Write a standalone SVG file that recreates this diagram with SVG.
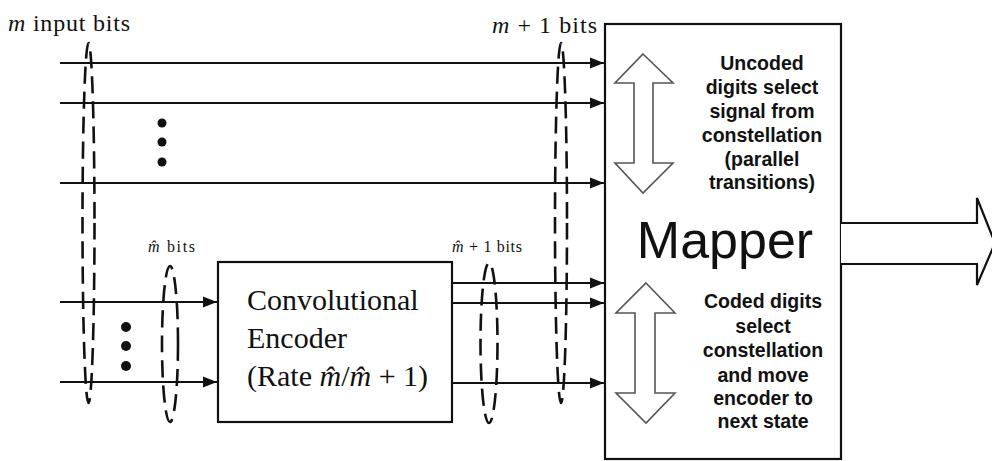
<svg xmlns="http://www.w3.org/2000/svg" width="992" height="461" viewBox="0 0 992 461">
<defs>
<marker id="ah" markerWidth="16" markerHeight="12" refX="14" refY="6" orient="auto" markerUnits="userSpaceOnUse">
<path d="M0,0.5 L14,6 L0,11.5 Z" fill="#111"/>
</marker>
<style>
.ln{stroke:#111;stroke-width:2.2;fill:none}
.box{stroke:#111;stroke-width:2.2;fill:#fff}
.dash{stroke:#111;stroke-width:2.6;fill:none;stroke-dasharray:17 8}
.hol{stroke:#555;stroke-width:1.6;fill:#fff}
.ser{font-family:"Liberation Serif","Times New Roman",serif;fill:#111}
.sans{font-family:"Liberation Sans",Arial,sans-serif;fill:#111}
.bold{font-family:"Liberation Sans",Arial,sans-serif;font-weight:bold;font-size:19.5px;fill:#111;text-anchor:middle}
.dot{fill:#111}
</style>
</defs>
<rect width="992" height="461" fill="#fff"/>

<g id="mapper">
<rect class="box" x="605" y="24" width="236" height="435"/>
<text class="sans" x="725" y="258" font-size="52" text-anchor="middle">Mapper</text>
<path class="hol" d="M643,54 L673,83 L653,83 L653,163 L673,163 L643,193 L615,163 L634,163 L634,83 L615,83 Z"/>
<path class="hol" d="M646,283 L675,313 L655,313 L655,393 L675,393 L646,423 L616,393 L635,393 L635,313 L616,313 Z"/>
<g class="bold">
<text x="762" y="70">Uncoded</text>
<text x="762" y="94">digits select</text>
<text x="762" y="118">signal from</text>
<text x="762" y="142">constellation</text>
<text x="762" y="166">(parallel</text>
<text x="762" y="189">transitions)</text>
<text x="763" y="308">Coded digits</text>
<text x="763" y="333">select</text>
<text x="763" y="357">constellation</text>
<text x="763" y="382">and move</text>
<text x="763" y="405">encoder to</text>
<text x="763" y="428">next state</text>
</g>
</g>

<g id="encoder">
<rect class="box" x="218" y="262" width="234" height="160"/>
<text class="ser" x="247" y="310" font-size="30">Convolutional</text>
<text class="ser" x="247" y="348" font-size="30">Encoder</text>
<text class="ser" x="247" y="386" font-size="30">(Rate <tspan font-style="italic">m̂</tspan>/<tspan font-style="italic">m̂</tspan> + 1)</text>
</g>

<g id="output">
<path class="box" d="M841,223 L977,223 L977,198 L995,243 L977,285 L977,264 L841,264"/>
</g>

<g id="connectors">
<line class="ln" x1="60" y1="63" x2="604" y2="63" marker-end="url(#ah)"/>
<line class="ln" x1="60" y1="103" x2="604" y2="103" marker-end="url(#ah)"/>
<line class="ln" x1="60" y1="183" x2="604" y2="183" marker-end="url(#ah)"/>
<line class="ln" x1="60" y1="302" x2="217" y2="302" marker-end="url(#ah)"/>
<line class="ln" x1="60" y1="382" x2="217" y2="382" marker-end="url(#ah)"/>
<line class="ln" x1="452" y1="283" x2="604" y2="283" marker-end="url(#ah)"/>
<line class="ln" x1="452" y1="303" x2="604" y2="303" marker-end="url(#ah)"/>
<line class="ln" x1="452" y1="383" x2="604" y2="383" marker-end="url(#ah)"/>
</g>

<g id="groupings">
<ellipse class="dash" cx="88.5" cy="223" rx="6" ry="180"/>
<ellipse class="dash" cx="561" cy="223" rx="6" ry="180"/>
<ellipse class="dash" cx="170" cy="344" rx="8" ry="78"/>
<ellipse class="dash" cx="489" cy="343" rx="8.5" ry="80"/>
</g>

<g id="dots">
<circle class="dot" cx="162" cy="123" r="4.5"/>
<circle class="dot" cx="162" cy="142" r="4.5"/>
<circle class="dot" cx="162" cy="162" r="4.5"/>
<circle class="dot" cx="126" cy="327" r="5"/>
<circle class="dot" cx="126" cy="346" r="5"/>
<circle class="dot" cx="126" cy="366" r="5"/>
</g>

<g id="labels">
<text class="ser" x="8" y="31" font-size="24" textLength="122" lengthAdjust="spacing"><tspan font-style="italic">m</tspan> input bits</text>
<text class="ser" x="492" y="33" font-size="24" textLength="105" lengthAdjust="spacing"><tspan font-style="italic">m</tspan> + 1 bits</text>
<text class="ser" x="148" y="252" font-size="16" textLength="47" lengthAdjust="spacing"><tspan font-style="italic">m̂</tspan> bits</text>
<text class="ser" x="452" y="252" font-size="16" textLength="70" lengthAdjust="spacing"><tspan font-style="italic">m̂</tspan> + 1 bits</text>
</g>
</svg>
